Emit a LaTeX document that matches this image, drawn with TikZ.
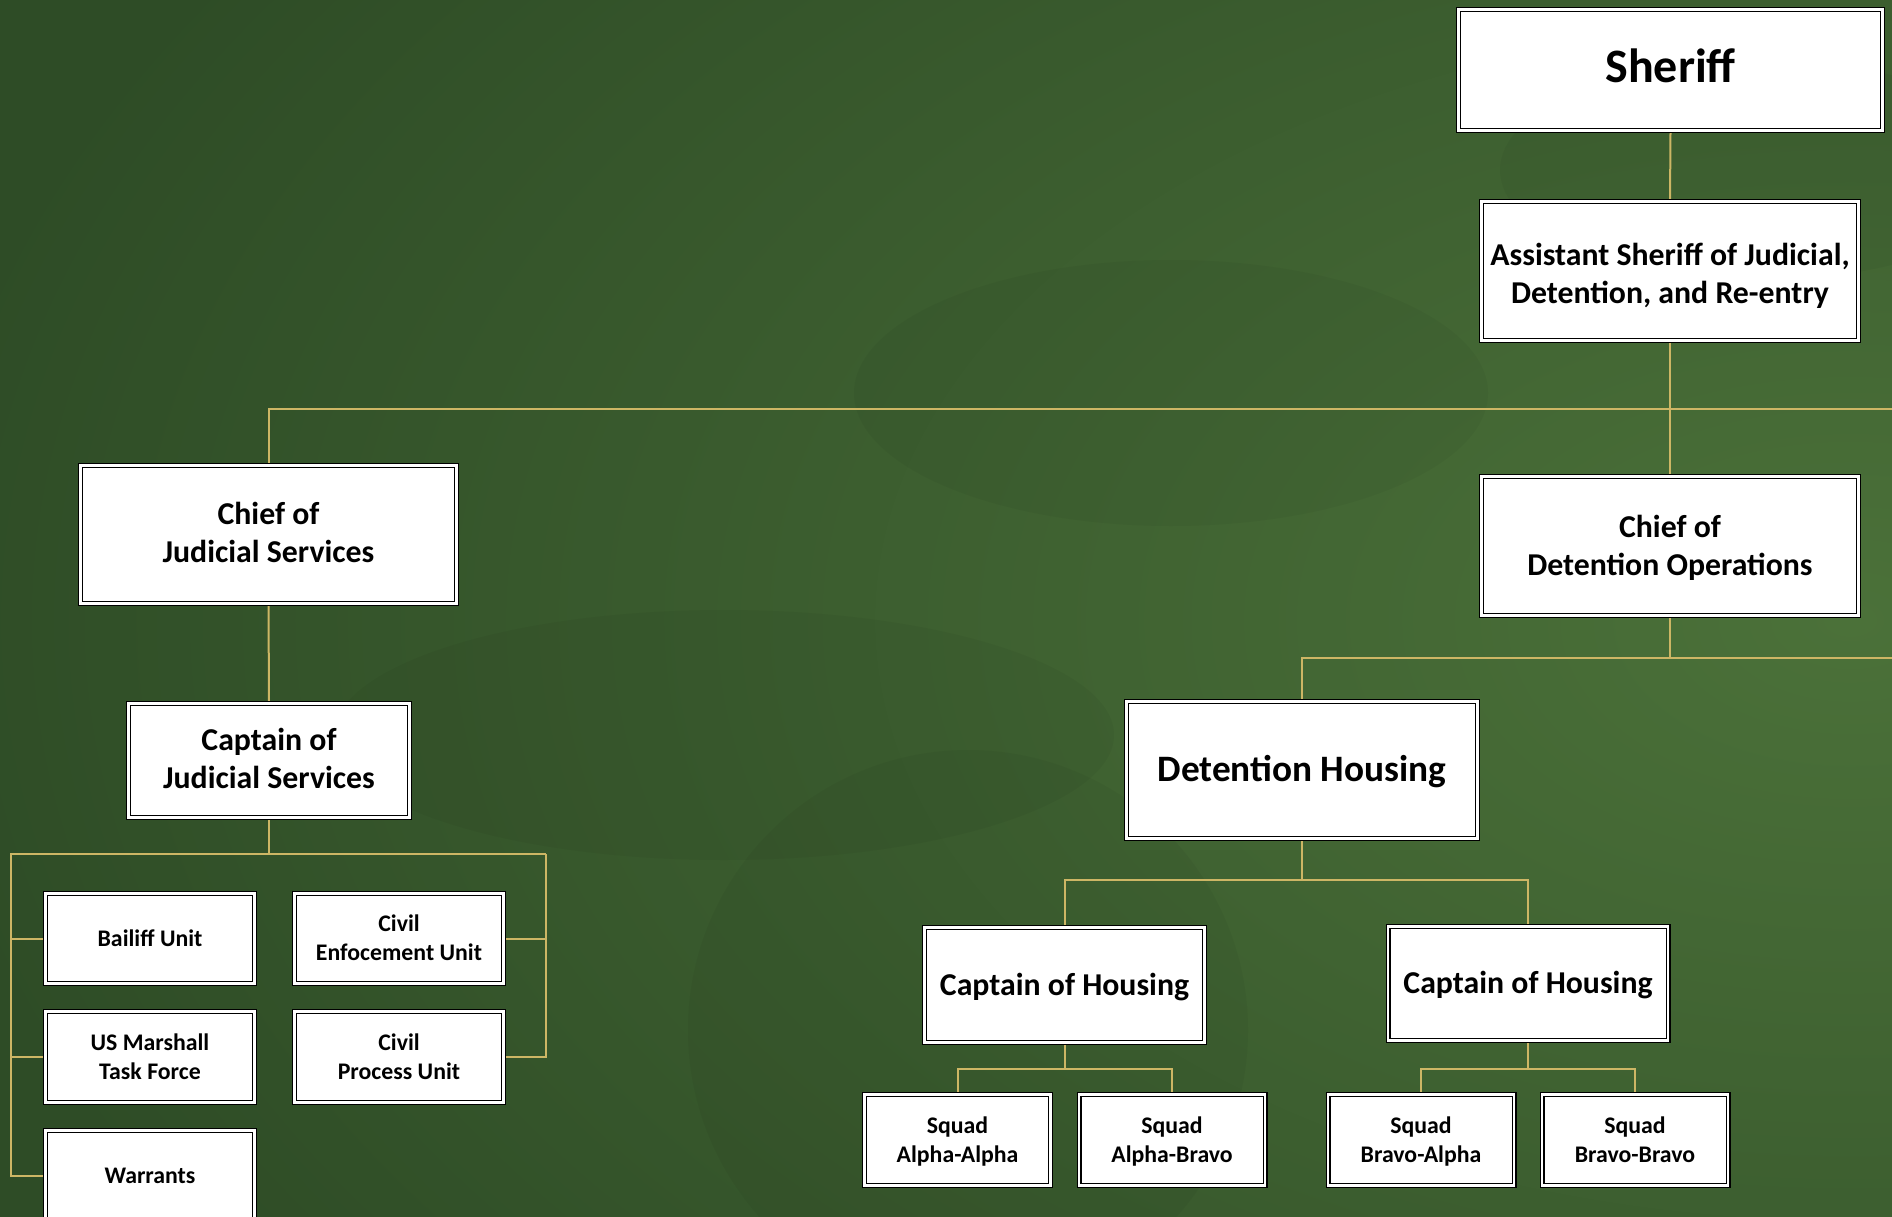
\documentclass[tikz,border=0pt]{standalone}
\usepackage{fontspec}
\setmainfont{Carlito}
\pgfdeclarelayer{bg}
\pgfdeclarelayer{lines}
\pgfsetlayers{bg,lines,main}
\definecolor{linegold}{HTML}{CDB665}
\definecolor{bgdark}{HTML}{2E4C26}
\definecolor{bgcenter}{HTML}{4B7139}
\pgfdeclareradialshading{bgglow}{\pgfpointorigin}{color(0bp)=(bgcenter); color(25bp)=(bgdark); color(50bp)=(bgdark)}
\newcommand{\fs}[2]{\fontsize{#1}{#2}\selectfont}
% text with its box reduced to cap-top .. last baseline, so it centres on the caps
\newcommand{\oneL}[2][0pt]{\raisebox{#1}[0.632em][0pt]{#2}}
\newcommand{\twoL}[3][0pt]{\raisebox{#1}[\dimexpr\baselineskip+0.632em\relax][0pt]{%
  \begin{tabular}[b]{@{}c@{}}#2\\#3\end{tabular}}}
\tikzset{
  orgbox/.style={draw=black, line width=1.4pt, double=white, double distance=2.2pt,
    fill=white, inner sep=0pt, align=center},
  tbig/.style={font=\bfseries\fs{48}{56}},
  thead/.style={font=\bfseries\fs{37.3}{44}},
  tmid/.style={font=\bfseries\fs{31.8}{38}},
  tsmall/.style={font=\bfseries\fs{23.8}{29}},
  conn/.style={draw=linegold, line width=2pt},
  faint/.style={fill=black, fill opacity=0.035, draw=none}
}
\begin{document}
\begin{tikzpicture}[x=1pt,y=-1pt]
\useasboundingbox (0,0) rectangle (1892,1217);
\begin{pgfonlayer}{bg}
  \begin{scope}
    \clip (0,0) rectangle (1892,1217);
    \fill[bgdark] (0,0) rectangle (1892,1217);
    \shade[shading=bgglow] (1850,620) ellipse (1950 and 1200);
    \fill[faint] (1171,393) ellipse (317 and 133);
    \fill[faint] (724,735) ellipse (390 and 125);
    \fill[faint] (968,1030) circle (280);
    \fill[faint] (1760,170) ellipse (260 and 110);
  \end{scope}
\end{pgfonlayer}

% boxes (outer size minus 5)
\node[orgbox, tbig, minimum width=424, minimum height=121] (sheriff) at (1670.5,70) {\oneL[3pt]{Sheriff}};
\node[orgbox, tmid, minimum width=377, minimum height=139] (asst) at (1670,271) {\twoL[-3pt]{Assistant Sheriff of Judicial,}{Detention, and Re-entry}};
\node[orgbox, tmid, minimum width=376, minimum height=138] (chiefJ) at (268.5,534.5) {\twoL[1pt]{Chief of}{Judicial Services}};
\node[orgbox, tmid, minimum width=377, minimum height=139] (chiefD) at (1670,546) {\twoL{Chief of}{Detention Operations}};
\node[orgbox, tmid, minimum width=281, minimum height=114] (captJ) at (269,760.5) {\twoL[1pt]{Captain of}{Judicial Services}};

\node[orgbox, tsmall, minimum width=209, minimum height=90] (bailiff) at (150,938.5) {\oneL{Bailiff Unit}};
\node[orgbox, tsmall, minimum width=209, minimum height=90] (civilE) at (399,938.5) {\twoL{Civil}{Enfocement Unit}};
\node[orgbox, tsmall, minimum width=209, minimum height=91] (usm) at (150,1057) {\twoL{US Marshall}{Task Force}};
\node[orgbox, tsmall, minimum width=209, minimum height=91] (civilP) at (399,1057) {\twoL{Civil}{Process Unit}};
\node[orgbox, tsmall, minimum width=209, minimum height=91] (warrants) at (150,1176) {\oneL{Warrants}};

\node[orgbox, thead, minimum width=351, minimum height=137] (detH) at (1302,770) {\oneL{Detention Housing}};
\node[orgbox, tmid, minimum width=280, minimum height=115] (captH1) at (1064.5,985) {\oneL{Captain of Housing}};
\node[orgbox, tmid, minimum width=280, minimum height=114] (captH2) at (1528,983.5) {\oneL{Captain of Housing}};

\node[orgbox, tsmall, minimum width=186, minimum height=91] (sqAA) at (957.5,1140) {\twoL{Squad}{Alpha-Alpha}};
\node[orgbox, tsmall, minimum width=186, minimum height=91] (sqAB) at (1172,1140) {\twoL{Squad}{Alpha-Bravo}};
\node[orgbox, tsmall, minimum width=186, minimum height=91] (sqBA) at (1421,1140) {\twoL{Squad}{Bravo-Alpha}};
\node[orgbox, tsmall, minimum width=186, minimum height=91] (sqBB) at (1635,1140) {\twoL{Squad}{Bravo-Bravo}};

% junction coordinates
\coordinate (rA) at (1892,409);
\coordinate (rB) at (1892,658);
\coordinate (jL) at (11,854);
\coordinate (jR) at (546,854);
\coordinate (hbar) at (1302,880);
\coordinate (sb1) at (1064.5,1069);
\coordinate (sb2) at (1528,1069);

\begin{pgfonlayer}{lines}
  \draw[conn] (sheriff.south) -- (asst.north);
  \draw[conn] (asst.south) -- (chiefD.north);
  \draw[conn] (chiefJ.north) |- (rA);
  \draw[conn] (chiefD.south) -- (chiefD.south |- rB);
  \draw[conn] (detH.north) |- (rB);
  \draw[conn] (chiefJ.south) -- (captJ.north);
  \draw[conn] (captJ.south) -- (captJ.south |- jL);
  \draw[conn] (jR) -- (jL) |- (warrants.west);
  \draw[conn] (jL |- bailiff.west) -- (bailiff.west);
  \draw[conn] (jL |- usm.west) -- (usm.west);
  \draw[conn] (jR) |- (civilP.east);
  \draw[conn] (jR |- civilE.east) -- (civilE.east);
  \draw[conn] (detH.south) -- (hbar);
  \draw[conn] (captH1.north) |- (hbar) -| (captH2.north);
  \draw[conn] (captH1.south) -- (sb1);
  \draw[conn] (sqAA.north) |- (sb1) -| (sqAB.north);
  \draw[conn] (captH2.south) -- (sb2);
  \draw[conn] (sqBA.north) |- (sb2) -| (sqBB.north);
\end{pgfonlayer}
\end{tikzpicture}
\end{document}
